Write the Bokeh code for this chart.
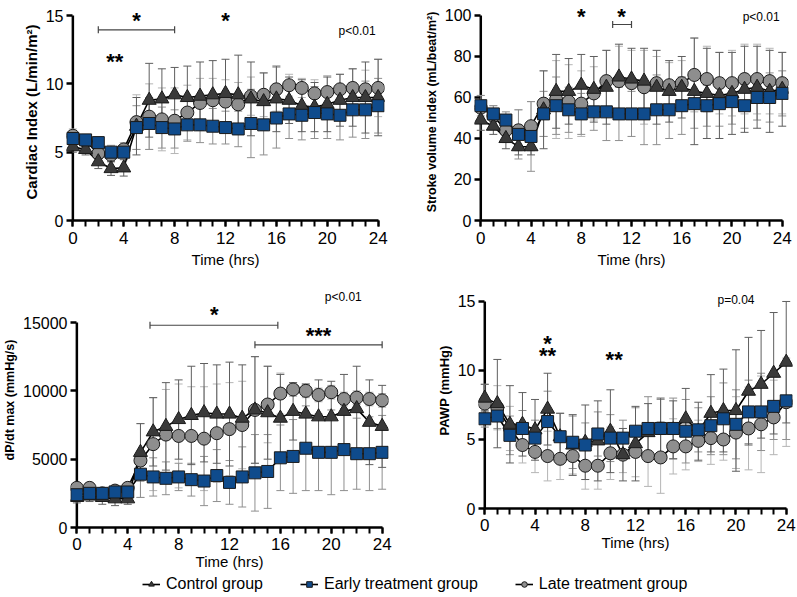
import numpy as np
from bokeh.plotting import figure
from bokeh.models import (SingleIntervalTicker, FixedTicker,
                          Range1d, Legend, LegendItem)
from bokeh.layouts import row, column
from bokeh.embed import file_html
from bokeh.resources import INLINE
from bokeh.core.properties import value

FONT = "Liberation Sans"
hours = list(range(25))

# ---------------- Cardiac index ----------------
ci_control = [5.4, 5.2, 4.3, 3.8, 3.85, 6.9, 8.8, 8.9, 9.2, 9.0, 9.1, 9.2, 9.3, 9.2, 8.9, 8.7, 8.9, 8.8, 8.4, 8.3, 8.5, 8.8, 9.0, 9.0, 9.0]
ci_control_sd = [0.4, 0.4, 0.5, 0.5, 0.6, 2.1, 2.7, 2.2, 2.0, 2.3, 2.5, 2.5, 2.5, 2.9, 2.7, 2.1, 2.4, 1.7, 1.9, 1.8, 2.0, 1.9, 2.1, 2.6, 2.8]
ci_early = [6.0, 5.9, 5.7, 5.0, 5.0, 6.8, 7.1, 6.8, 6.7, 7.0, 7.0, 6.9, 6.8, 6.7, 7.1, 7.0, 7.5, 7.8, 7.7, 7.9, 7.8, 7.7, 8.1, 8.1, 8.4]
ci_early_sd = [0.3, 0.4, 0.4, 0.5, 0.4, 1.6, 1.9, 1.5, 1.4, 1.2, 1.3, 1.3, 1.2, 1.3, 2.5, 2.2, 2.2, 1.8, 1.8, 1.9, 1.8, 1.8, 2.0, 2.1, 2.0]
ci_late = [6.2, 5.8, 4.9, 4.8, 5.2, 7.2, 7.6, 7.4, 7.3, 7.9, 8.6, 8.8, 8.7, 8.5, 9.1, 9.2, 9.6, 9.9, 9.7, 9.3, 9.4, 9.6, 9.7, 9.6, 9.7]
ci_late_sd = [0.5, 0.5, 0.6, 0.5, 0.5, 2.0, 2.4, 2.3, 2.4, 2.0, 1.8, 1.6, 1.6, 1.6, 1.4, 1.6, 1.6, 0.8, 0.7, 1.0, 1.2, 1.1, 1.4, 1.4, 2.1]
ci_ticks = [0, 5, 10, 15]
ci_star_x = [5, 12, 3.3]
ci_star_y = [14.6, 14.6, 11.6]
ci_star_t = ["*", "*", "**"]
ci_brackets = [(2, 8, 13.95)]
ci_p = ("p<0.01", 23.8, 13.9)

# ---------------- Stroke volume index ----------------
svi_control = [49, 46, 40, 36, 36, 54, 63, 63, 66, 64, 65, 70, 69, 68, 65, 63, 65, 63, 62, 61, 62, 64, 65, 63, 64]
svi_control_sd = [5, 4, 5, 4, 4, 19, 18, 16, 15, 16, 18, 16, 15, 16, 18, 15, 15, 26, 22, 21, 20, 21, 20, 20, 18]
svi_early = [56, 52, 49, 42, 41, 52, 56, 54, 52, 53, 53, 52, 52, 52, 54, 54, 56, 57, 56, 57, 58, 56, 60, 60, 62]
svi_early_sd = [5, 4, 4, 12, 17, 11, 14, 11, 10, 9, 14, 13, 11, 15, 17, 14, 14, 12, 10, 11, 11, 11, 11, 12, 11]
svi_late = [55, 51, 44, 44, 46, 57, 59, 58, 57, 62, 68, 68, 67, 65, 67, 66, 67, 71, 69, 67, 67, 69, 69, 68, 67]
svi_late_sd = [6, 5, 6, 10, 12, 16, 19, 18, 16, 13, 15, 17, 16, 18, 13, 11, 11, 18, 16, 15, 16, 17, 17, 16, 15]
svi_ticks = [0, 20, 40, 60, 80, 100]
svi_star_x = [8, 11.2]
svi_star_y = [99.5, 99.5]
svi_star_t = ["*", "*"]
svi_brackets = [(10.5, 12, 95.6)]
svi_p = ("p<0.01", 23.8, 99.5)

# ---------------- dP/dt max ----------------
dp_control = [2200, 2300, 2200, 2100, 2100, 5500, 7000, 7400, 7900, 8200, 8400, 8300, 8300, 8000, 8600, 8400, 8000, 8500, 8300, 8100, 8100, 8500, 8700, 7700, 7400]
dp_control_sd = [400, 400, 500, 500, 400, 2100, 2500, 3200, 2900, 3600, 3600, 3600, 3800, 3900, 3900, 3400, 3200, 2100, 2200, 2700, 2600, 2700, 3100, 3100, 3000]
dp_early = [2400, 2500, 2500, 2600, 2600, 3900, 3700, 3600, 3700, 3500, 3400, 3800, 3300, 3700, 4000, 4100, 5100, 5200, 5800, 5500, 5500, 5700, 5400, 5400, 5500]
dp_early_sd = [300, 300, 300, 300, 300, 1700, 1400, 1200, 1000, 1200, 1800, 1900, 1600, 2200, 2800, 2700, 2400, 2700, 3100, 2800, 3100, 3000, 2600, 2700, 2700]
dp_late = [2900, 2900, 2500, 2700, 2900, 4900, 6100, 6800, 6700, 6700, 6500, 6900, 7200, 7500, 8600, 9000, 9800, 10100, 10000, 9700, 9900, 9400, 9500, 9400, 9300]
dp_late_sd = [300, 300, 300, 300, 300, 2700, 3400, 3300, 3800, 3600, 3800, 3600, 3400, 3200, 3900, 2800, 1500, 500, 500, 500, 500, 500, 500, 500, 500]
dp_ticks = [0, 5000, 10000, 15000]
dp_star_x = [10.8, 19]
dp_star_y = [15600, 14050]
dp_star_t = ["*", "***"]
dp_brackets = [(5.75, 15.8, 14800), (14, 24, 13370)]
dp_p = ("p<0.01", 22.4, 16830)

# ---------------- PAWP ----------------
pawp_control = [8.0, 7.6, 6.1, 6.1, 5.7, 7.2, 5.2, 4.6, 4.8, 4.9, 5.6, 3.9, 4.7, 5.5, 5.7, 5.7, 6.5, 5.6, 6.9, 7.1, 7.1, 8.5, 9.0, 9.8, 10.6]
pawp_control_sd = [1.0, 3.2, 2.8, 2.3, 2.2, 2.6, 1.7, 2.2, 2.7, 2.9, 3.0, 1.9, 2.7, 2.1, 2.3, 2.1, 2.2, 2.1, 2.8, 3.0, 4.4, 3.9, 3.9, 4.4, 4.4]
pawp_early = [6.5, 6.7, 5.3, 5.8, 5.1, 6.3, 5.2, 4.8, 4.6, 5.4, 5.1, 5.1, 5.6, 5.8, 5.8, 5.8, 5.6, 5.7, 6.0, 6.5, 6.1, 7.0, 7.0, 7.4, 7.8]
pawp_early_sd = [0.6, 0.9, 1.4, 1.3, 1.3, 2.2, 1.7, 1.9, 1.6, 1.6, 1.7, 1.3, 1.7, 2.3, 2.1, 2.2, 2.3, 1.6, 2.1, 2.6, 2.5, 2.3, 2.8, 2.4, 2.8]
pawp_late = [7.6, 7.3, 5.8, 4.6, 4.1, 3.8, 3.6, 3.8, 3.1, 3.1, 4.0, 3.9, 4.1, 3.8, 3.7, 4.5, 4.5, 4.9, 5.1, 5.0, 5.5, 5.8, 6.1, 6.6, 7.7]
pawp_late_sd = [1.4, 1.6, 1.6, 1.3, 1.5, 1.8, 1.5, 1.3, 1.7, 1.7, 1.9, 1.3, 1.8, 2.2, 2.6, 2.0, 1.7, 1.5, 1.9, 1.5, 2.6, 3.0, 3.5, 2.7, 3.2]
pawp_ticks = [0, 5, 10, 15]
pawp_star_x = [5, 5, 10.3]
pawp_star_y = [11.95, 11.1, 10.8]
pawp_star_t = ["*", "**", "**"]
pawp_brackets = []
pawp_p = ("p=0.04", 20.0, 15.1)

group_names = ["Control group", "Early treatment group", "Late treatment group"]

STYLE = {
    "control": dict(marker="triangle", fill="#3a3a3a", size=14, bar="#5e5e5e"),
    "early": dict(marker="square", fill="#0f4b8c", size=12, bar="#8f8f8f"),
    "late": dict(marker="circle", fill="#8e8e8e", size=13, bar="#b5b5b5"),
}


def make_panel(ylabel, ylabel_size, yticks, yview, fw, fh, bl, br, bt, bb, data,
               stars, brackets, ptext, tick_so, title_so):
    p = figure(frame_width=fw, frame_height=fh,
               min_border_left=bl, min_border_right=br,
               min_border_top=bt, min_border_bottom=bb,
               x_range=Range1d(-0.5, 24.5), y_range=Range1d(0, yview),
               output_backend="svg", toolbar_location=None)
    p.outline_line_color = None
    p.grid.visible = False
    ppx = fw / 25.0
    ppy = fh / yview

    xa = p.xaxis[0]
    xa.ticker = SingleIntervalTicker(interval=4, num_minor_ticks=4)
    xa.bounds = (0, 24)
    xa.axis_line_width = 2.5
    xa.axis_line_color = "black"
    xa.major_tick_line_width = 2
    xa.minor_tick_line_width = 2
    xa.major_tick_line_color = "black"
    xa.minor_tick_line_color = "black"
    xa.major_tick_in = 0
    xa.major_tick_out = 6
    xa.minor_tick_in = 0
    xa.minor_tick_out = 6
    xa.major_label_text_font = FONT
    xa.major_label_text_font_size = "17px"
    xa.major_label_text_color = "black"
    xa.major_label_standoff = tick_so
    xa.axis_label = "Time (hrs)"
    xa.axis_label_text_font = FONT
    xa.axis_label_text_font_size = "15px"
    xa.axis_label_text_font_style = "normal"
    xa.axis_label_text_color = "black"
    xa.axis_label_standoff = title_so

    ya = p.yaxis[0]
    ya.ticker = FixedTicker(ticks=yticks)
    ya.bounds = (yticks[0], yticks[-1])
    ya.axis_line_color = None
    ya.minor_tick_line_color = None
    ya.major_tick_line_width = 2.5
    ya.major_tick_line_color = "black"
    ya.major_tick_out = 0
    ya.major_tick_in = int(round(0.5 * ppx))
    ya.major_label_text_font = FONT
    ya.major_label_text_font_size = "16px"
    ya.major_label_text_color = "black"
    ya.major_label_standoff = 3
    ya.axis_label = ylabel
    ya.axis_label_text_font = FONT
    ya.axis_label_text_font_size = ylabel_size
    ya.axis_label_text_font_style = "bold"
    ya.axis_label_text_color = "black"
    ya.axis_label_standoff = 3

    # y axis line drawn at x = 0
    p.segment(x0=[0], y0=[yticks[0]], x1=[0], y1=[yticks[-1]],
              line_color="black", line_width=2.5)

    x = np.array(hours, dtype=float)
    cw = 4.0 / ppx
    # error bars
    for key in ["late", "early", "control"]:
        m, sd = data[key]
        m = np.array(m, dtype=float)
        sd = np.array(sd, dtype=float)
        lo, hi = m - sd, m + sd
        col = STYLE[key]["bar"]
        p.segment(x0=x, y0=lo, x1=x, y1=hi, line_color=col, line_width=1.0)
        p.segment(x0=x - cw, y0=hi, x1=x + cw, y1=hi, line_color=col, line_width=1.0)
        p.segment(x0=x - cw, y0=lo, x1=x + cw, y1=lo, line_color=col, line_width=1.0)
    # lines
    for key in ["late", "early", "control"]:
        m, sd = data[key]
        p.line(x, m, line_color="black", line_width=1.6)
    # markers
    for key in ["late", "control", "early"]:
        m, sd = data[key]
        st = STYLE[key]
        p.scatter(x, m, marker=st["marker"], size=st["size"],
                  fill_color=st["fill"], line_color="#1a1a1a", line_width=1)

    # significance brackets
    th = 3.5 / ppy
    for (b0, b1, by) in brackets:
        p.segment(x0=[b0], y0=[by], x1=[b1], y1=[by], line_color="#444444", line_width=1.2)
        p.segment(x0=[b0, b1], y0=[by - th, by - th], x1=[b0, b1], y1=[by + th, by + th],
                  line_color="#444444", line_width=1.2)
    sx, sy, stxt = stars
    p.text(x=sx, y=sy, text=stxt, text_font=value(FONT), text_font_style="bold",
           text_font_size="22px", text_align="center", text_baseline="middle",
           text_color="black")
    pt, pxx, pyy = ptext
    p.text(x=[pxx], y=[pyy], text=[pt], text_font=value(FONT),
           text_font_size="12px", text_align="right" if pt.startswith("p<") else "center",
           text_baseline="middle", text_color="black")
    return p


p1 = make_panel("Cardiac Index (L/min/m²)", "15px", ci_ticks, 15.88, 318, 217, 66, 20, 3, 48,
                {"control": (ci_control, ci_control_sd), "early": (ci_early, ci_early_sd),
                 "late": (ci_late, ci_late_sd)},
                (ci_star_x, ci_star_y, ci_star_t), ci_brackets, ci_p, 5, 4)
p2 = make_panel("Stroke volume index (mL/beat/m²)", "12.5px", svi_ticks, 105.85, 314, 217, 70, 7, 3, 48,
                {"control": (svi_control, svi_control_sd), "early": (svi_early, svi_early_sd),
                 "late": (svi_late, svi_late_sd)},
                (svi_star_x, svi_star_y, svi_star_t), svi_brackets, svi_p, 5, 4)
p3 = make_panel("dP/dt max (mmHg/s)", "12.5px", dp_ticks, 18659, 318, 255, 66, 20, 2, 42,
                {"control": (dp_control, dp_control_sd), "early": (dp_early, dp_early_sd),
                 "late": (dp_late, dp_late_sd)},
                (dp_star_x, dp_star_y, dp_star_t), dp_brackets, dp_p, 4, 0)
p4 = make_panel("PAWP (mmHg)", "13px", pawp_ticks, 17.1, 314, 236, 70, 7, 2, 42,
                {"control": (pawp_control, pawp_control_sd), "early": (pawp_early, pawp_early_sd),
                 "late": (pawp_late, pawp_late_sd)},
                (pawp_star_x, pawp_star_y, pawp_star_t), pawp_brackets, pawp_p, 4, 0)

# ---------------- legend strip ----------------
lf = figure(frame_width=795, frame_height=25, min_border=0,
            x_range=Range1d(0, 1), y_range=Range1d(0, 1),
            output_backend="svg", toolbar_location=None)
lf.axis.visible = False
lf.grid.visible = False
lf.outline_line_color = None
items = []
for name, key in zip(group_names, ["control", "early", "late"]):
    st = STYLE[key]
    lr = lf.line(x=[np.nan], y=[np.nan], line_color="black", line_width=1.6)
    sr = lf.scatter(x=[np.nan], y=[np.nan], marker=st["marker"], size=10,
                    fill_color=st["fill"], line_color="#1a1a1a", line_width=1)
    items.append(LegendItem(label=name, renderers=[lr, sr]))
leg = Legend(items=items, orientation="horizontal", location=(142, 4),
             label_text_font=FONT, label_text_font_size="16px", label_text_color="black",
             label_height=18, glyph_width=18, glyph_height=14, label_standoff=6, spacing=37,
             padding=0, margin=0, border_line_color=None, background_fill_alpha=0)
lf.add_layout(leg, "center")

layout = column(row(p1, p2), row(p3, p4), lf)

with open("out.html", "w") as f:
    f.write(file_html(layout, INLINE))
